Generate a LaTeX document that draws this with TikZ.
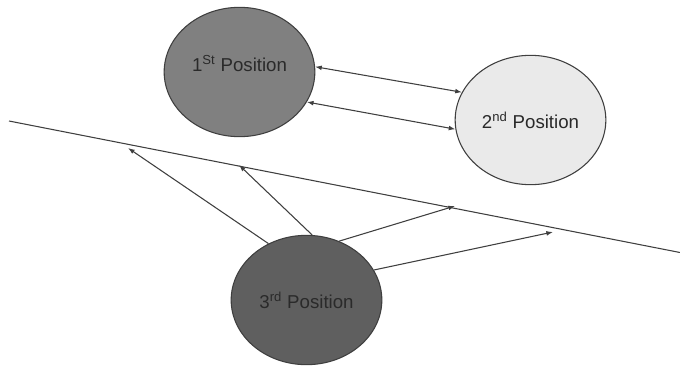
\documentclass[tikz,border=0pt]{standalone}
\usepackage{fontspec}
\setmainfont{Liberation Sans}
\usetikzlibrary{arrows.meta, shapes.geometric}
\definecolor{rimgray}{HTML}{3F3F3F}
\definecolor{firstfill}{HTML}{808080}
\definecolor{secondfill}{HTML}{EAEAEA}
\definecolor{thirdfill}{HTML}{5F5F5F}
\definecolor{inkgray}{HTML}{2A2A2A}
\begin{document}
\begin{tikzpicture}[
        x=0.75pt, y=-0.75pt,
        position blob/.style={
            ellipse,
            draw=rimgray,
            line width=0.8pt,
            minimum width=113pt,
            minimum height=97pt,
            inner sep=0pt,
            text=inkgray,
            font=\fontsize{14}{16}\selectfont
        },
        link/.style={
            draw=rimgray,
            line width=0.8pt,
            -{Latex[length=5pt,width=3.6pt]}
        },
        twoway/.style={
            link,
            {Latex[length=5pt,width=3.6pt]}-{Latex[length=5pt,width=3.6pt]}
        }
    ]
        \useasboundingbox (0,0) rectangle (680,368);

        \node[position blob, fill=firstfill] (first) at (239.5,72)
            {\raisebox{13pt}{1\textsuperscript{St} Position}};
        \node[position blob, fill=secondfill] (second) at (530.5,120)
            {2\textsuperscript{nd} Position};
        \node[position blob, fill=thirdfill] (third) at (306.5,300)
            {3\textsuperscript{rd} Position};

        % reference line
        \coordinate (lineL) at (9,121);
        \coordinate (lineR) at (680,252.5);
        \draw[rimgray, line width=0.8pt] (lineL) -- (lineR);

        % targets on the line
        \coordinate (hitA) at (128,148);
        \coordinate (hitB) at (239,165);
        \coordinate (hitC) at (455,206);
        \coordinate (hitD) at (553,232);

        \draw[twoway] (first.4.5) -- (second.158.5);
        \draw[twoway] (first.-24.4) -- (second.187.5);

        \draw[link] (third.124) -- (hitA);
        \draw[link] (third.85) -- (hitB);
        \draw[link] (third.61.5) -- (hitC);
        \draw[link] (third.24.4) -- (hitD);
    \end{tikzpicture}
\end{document}
